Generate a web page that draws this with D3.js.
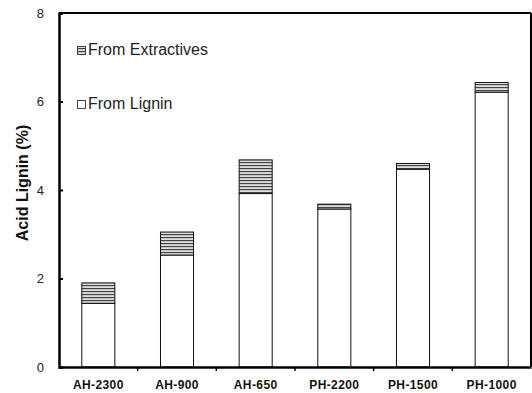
<!DOCTYPE html>
<html><head><meta charset="utf-8">
<script src="https://cdn.jsdelivr.net/npm/d3@7"></script>
<style>body{margin:0;background:#fff}svg{display:block}</style>
</head><body>
<script>
const categories = ["AH-2300","AH-900","AH-650","PH-2200","PH-1500","PH-1000"];
const fromLignin = [1.44, 2.53, 3.92, 3.57, 4.47, 6.21];
const fromExtractives = [0.46, 0.52, 0.76, 0.11, 0.13, 0.22];
const yTicks = [0,2,4,6,8];
const seriesNames = ["From Extractives","From Lignin"];

const W=532,H=393;
const m={l:59,t:13,r:1,b:26};
const FONT="Liberation Sans, Arial, sans-serif";
const svg=d3.select("body").append("svg").attr("width",W).attr("height",H);
const defs=svg.append("defs");
const pat=defs.append("pattern").attr("id","hatch").attr("patternUnits","userSpaceOnUse")
  .attr("width",4).attr("height",3);
pat.append("rect").attr("width",4).attr("height",3).attr("fill","#fff");
pat.append("rect").attr("y",0).attr("width",4).attr("height",1.2).attr("fill","#444");
pat.append("rect").attr("y",1.6).attr("width",4).attr("height",0.8).attr("fill","#aaa");

const x=d3.scaleBand().domain(categories).range([m.l,W-m.r]).paddingInner(0).paddingOuter(0);
const y=d3.scaleLinear().domain([0,8]).range([H-m.b,m.t]);
const bw=x.bandwidth()*0.42;

const g=svg.append("g");
categories.forEach((c,i)=>{
  const cx=x(c)+x.bandwidth()/2;
  g.append("rect").attr("x",cx-bw/2).attr("y",y(fromLignin[i])).attr("width",bw)
   .attr("height",y(0)-y(fromLignin[i])).attr("fill","#fff").attr("stroke","#111").attr("stroke-width",1);
  const tot=fromLignin[i]+fromExtractives[i];
  g.append("rect").attr("x",cx-bw/2).attr("y",y(tot)).attr("width",bw)
   .attr("height",y(fromLignin[i])-y(tot)).attr("fill","url(#hatch)").attr("stroke","#111").attr("stroke-width",1);
});

// frame
svg.append("line").attr("x1",m.l).attr("x2",W-m.r).attr("y1",m.t).attr("y2",m.t).attr("stroke","#000").attr("stroke-width",2);
svg.append("line").attr("x1",W-m.r).attr("x2",W-m.r).attr("y1",m.t).attr("y2",H-m.b).attr("stroke","#000").attr("stroke-width",2);

// y axis
const ya=svg.append("g").attr("transform",`translate(${m.l},0)`)
  .call(d3.axisLeft(y).tickValues(yTicks).tickFormat(d3.format("d")).tickSize(-4).tickPadding(15));
ya.select(".domain").attr("stroke-width",2.5);
ya.selectAll(".tick line").attr("stroke-width",2);
ya.selectAll("text").attr("font-family",FONT).attr("font-size",13).attr("fill","#222");

// x axis
const xa=svg.append("g").attr("transform",`translate(0,${H-m.b})`)
  .call(d3.axisBottom(x).tickSize(0).tickPadding(13));
xa.select(".domain").attr("stroke-width",2.5);
xa.selectAll("text").attr("font-family",FONT).attr("font-size",12).attr("font-weight","bold")
  .attr("letter-spacing",0.4).attr("fill","#111");
xa.selectAll(".bt").data(categories.slice(1)).enter().append("line")
  .attr("x1",d=>x(d)).attr("x2",d=>x(d)).attr("y1",0).attr("y2",4).attr("stroke","#000").attr("stroke-width",1.5);

// y label
svg.append("text").attr("transform",`translate(28,183) rotate(-90)`)
  .attr("text-anchor","middle").attr("font-family",FONT)
  .attr("font-size",16).attr("font-weight","bold").attr("fill","#111").text("Acid Lignin (%)");

// legend
const lg=[{n:seriesNames[0],f:"url(#hatch)",y:55},{n:seriesNames[1],f:"#fff",y:109}];
lg.forEach(d=>{
  svg.append("rect").attr("x",77.5).attr("y",d.y-8.5).attr("width",8).attr("height",8).attr("fill",d.f).attr("stroke","#333").attr("stroke-width",0.9);
  svg.append("text").attr("x",88).attr("y",d.y).attr("font-family",FONT)
   .attr("font-size",16).attr("fill","#222").text(d.n);
});
</script>
</body></html>
